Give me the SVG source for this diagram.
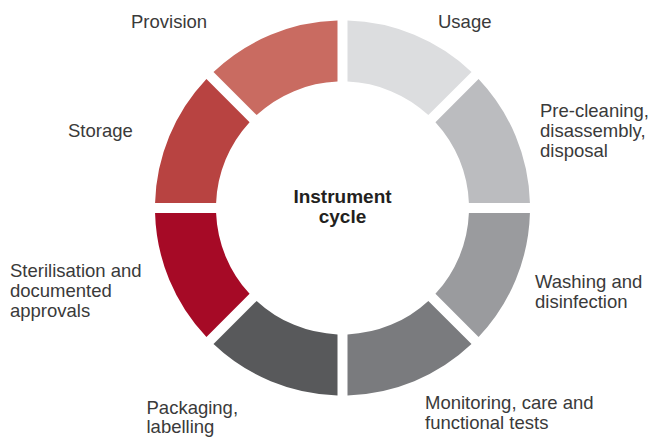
<svg xmlns="http://www.w3.org/2000/svg" xmlns:xlink="http://www.w3.org/1999/xlink" width="651" height="437" viewBox="0 0 651 437">
<style>
.lbl{font-family:"Liberation Sans",Arial,sans-serif;font-size:18.5px;fill:#3a3a3a}
.ctr{font-family:"Liberation Sans",Arial,sans-serif;font-size:19px;font-weight:bold;fill:#231f20;text-anchor:middle}
</style>
<defs>
<path id="seg" d="M 347.5 20.567 A 187.5 187.5 0 0 1 471.5 71.928 L 428.343 115.085 A 126.5 126.5 0 0 0 347.5 81.599 Z"/>
</defs>
<rect width="651" height="437" fill="#ffffff"/>
<g id="connectors"></g>
<g id="usage">
<use xlink:href="#seg" href="#seg" fill="#dcdddf"/>
<text class="lbl" x="438" y="28">Usage</text>
</g>
<g id="precleaning">
<use xlink:href="#seg" href="#seg" fill="#bbbcbf" transform="rotate(45 342.5 208)"/>
<text class="lbl" x="540" y="116.5">Pre-cleaning,</text>
<text class="lbl" x="540" y="136.5">disassembly,</text>
<text class="lbl" x="540" y="156.5">disposal</text>
</g>
<g id="washing">
<use xlink:href="#seg" href="#seg" fill="#9a9b9e" transform="rotate(90 342.5 208)"/>
<text class="lbl" x="535" y="288">Washing and</text>
<text class="lbl" x="535" y="308">disinfection</text>
</g>
<g id="monitoring">
<use xlink:href="#seg" href="#seg" fill="#7a7b7e" transform="rotate(135 342.5 208)"/>
<text class="lbl" x="425" y="408.5">Monitoring, care and</text>
<text class="lbl" x="425" y="428.5">functional tests</text>
</g>
<g id="packaging">
<use xlink:href="#seg" href="#seg" fill="#58595b" transform="rotate(180 342.5 208)"/>
<text class="lbl" x="146.5" y="413.5">Packaging,</text>
<text class="lbl" x="146.5" y="433">labelling</text>
</g>
<g id="sterilisation">
<use xlink:href="#seg" href="#seg" fill="#a60a26" transform="rotate(225 342.5 208)"/>
<text class="lbl" x="10" y="277">Sterilisation and</text>
<text class="lbl" x="10" y="297">documented</text>
<text class="lbl" x="10" y="317">approvals</text>
</g>
<g id="storage">
<use xlink:href="#seg" href="#seg" fill="#b84341" transform="rotate(270 342.5 208)"/>
<text class="lbl" x="68" y="137">Storage</text>
</g>
<g id="provision">
<use xlink:href="#seg" href="#seg" fill="#c96b61" transform="rotate(315 342.5 208)"/>
<text class="lbl" x="131" y="28">Provision</text>
</g>
<g id="center">
<text class="ctr" x="342.5" y="202.5">Instrument</text>
<text class="ctr" x="342.5" y="223">cycle</text>
</g>
</svg>
